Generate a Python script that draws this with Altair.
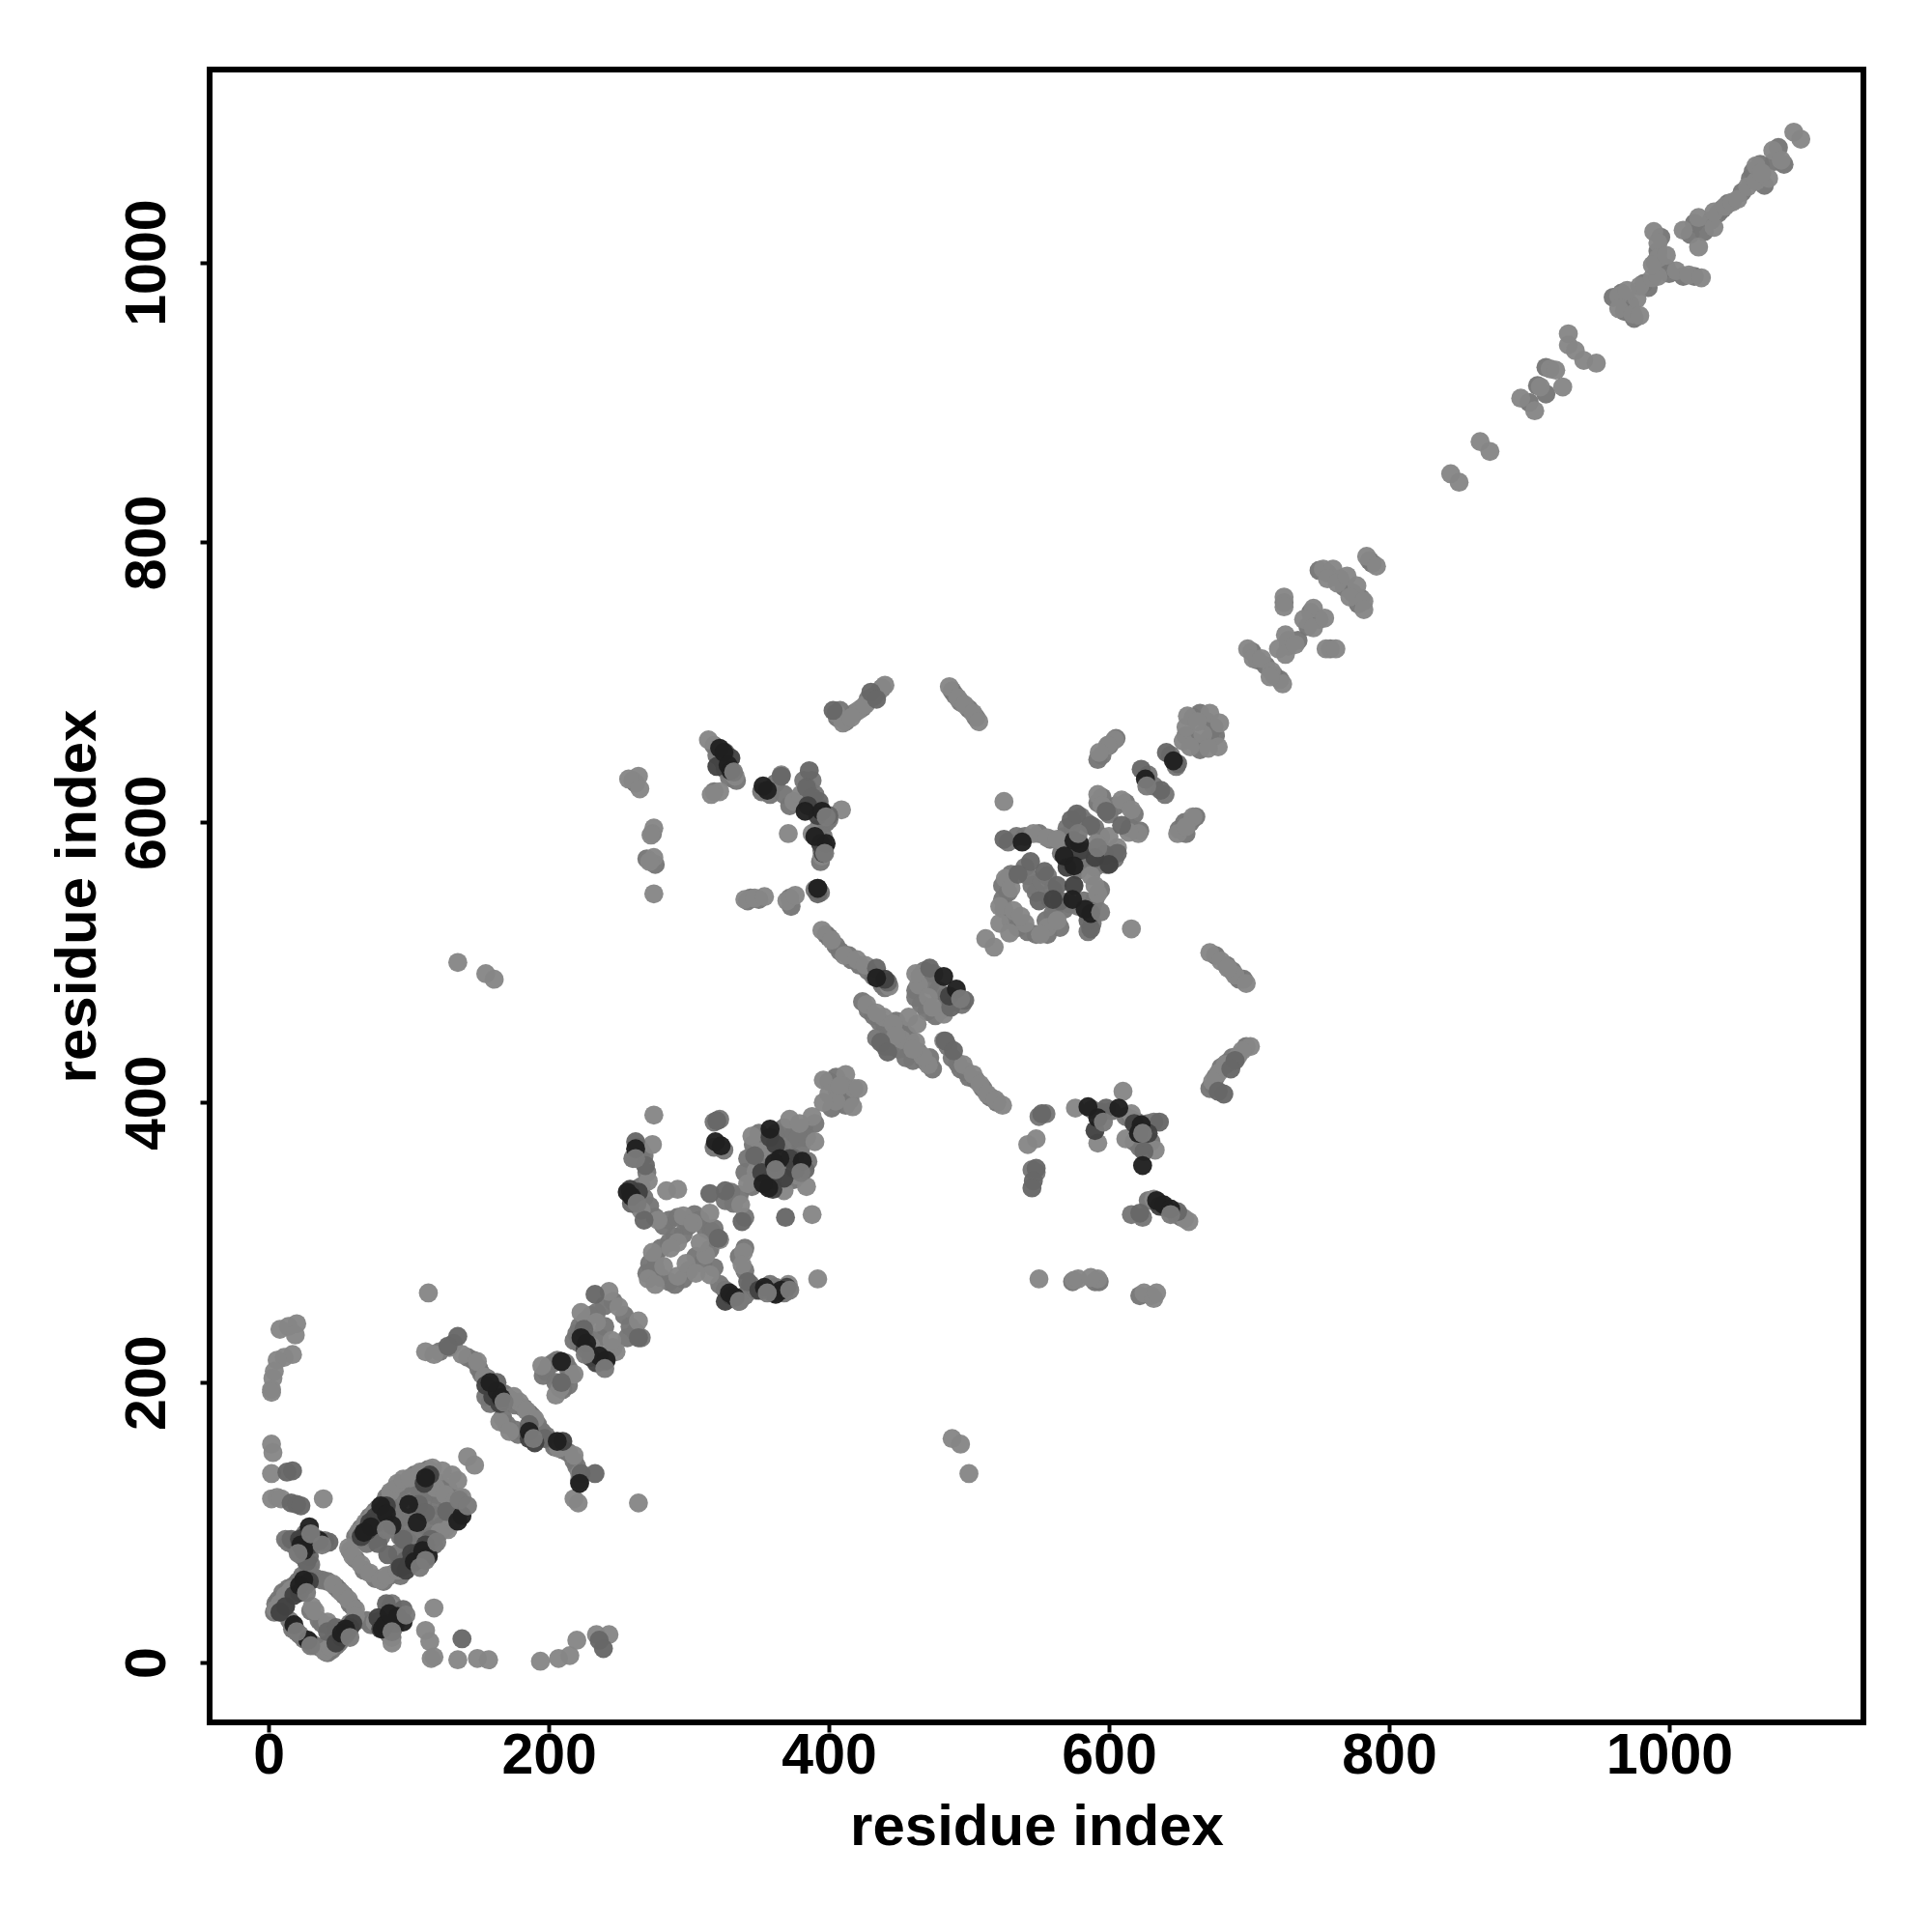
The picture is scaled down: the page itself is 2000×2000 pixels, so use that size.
import altair as alt
import pandas as pd

LIGHT = [
[20,242],[14,240],[8,238],[19,234],[17,220],[11,218],[6,216],[4,208],[3,203],[2,195],[2,193],
[2,156],[3,150],[2,135],[2,117],[6,118],[9,117],[39,117],
[46,56],[52,50],[57,45],[62,38],[62,33],[31,40],[33,37],[42,29],[8,42],[12,48],[16,52],[5,38],
[88,14],[76,29],[87,40],[46,15],[40,8],[44,11],
[57,82],[60,76],[66,70],[72,64],[80,59],[84,62],[92,66],[64,93],[69,100],[75,106],[87,122],[92,128],[96,131],[101,132],
[108,136],[117,139],[124,137],[131,134],[135,130],[142,147],[147,141],[119,125],[126,120],[133,115],[138,118],[131,100],[128,95],[122,93],[136,107],
[118,39],[112,23],[115,15],[118,4],[116,3],[135,2],[149,3],[157,2],[194,1],[207,3],[215,5],[220,16],[234,20],[243,20],[114,264],
[112,222],[118,220],[129,225],[138,220],[149,215],[154,204],[179,186],[175,190],[184,180],[190,174],[165,172],[172,165],[207,153],[218,148],[222,135],[221,114],[218,117],[264,114],
[195,212],[218,206],[208,196],[205,191],[236,220],[248,222],[223,250],[243,265],[250,254],[264,244],[234,243],[230,226],[245,230],
[275,391],[274,370],[271,344],[292,338],[284,337],[266,323],[278,316],[296,319],[315,321],[303,314],[292,300],[274,293],[287,296],[271,274],[276,270],[292,276],[312,291],[315,277],[308,300],[298,285],[282,283],[305,278],[322,302],
[339,293],[338,284],[371,270],[392,274],[337,327],[388,320],[345,376],[348,351],[342,342],[368,337],[372,388],[388,390],[379,385],[390,372],[378,348],[384,340],[350,365],[360,369],
[412,420],[396,416],[400,406],[417,397],[418,410],[405,401],[408,412],[396,400],
[264,633],[257,631],[265,624],[275,596],[273,591],[275,575],[272,572],[275,549],[314,659],[333,633],[322,622],[316,620],
[366,634],[375,615],[380,620],[371,592],[388,592],[409,609],[340,545],[347,546],[354,547],[370,544],[376,548],[395,576],
[395,523],[402,516],[411,505],[420,502],[426,498],[443,483],[464,484],[471,475],[482,463],[474,468],[462,492],
[427,470],[439,461],[457,461],[463,456],[446,456],[452,445],[462,443],[471,427],[467,433],[460,438],[448,448],[434,464],
[482,444],[496,427],[503,420],[508,413],[513,406],[519,402],[524,398],[421,410],
[405,678],[410,671],[421,680],[416,675],[426,684],[436,694],[440,698],[486,697],[492,689],[497,684],[503,678],[507,672],
[525,615],[546,592],[556,589],[563,588],[592,620],[595,612],[609,616],[616,609],[621,592],[614,593],[600,590],[591,585],[606,582],
[526,560],[530,553],[522,540],[532,537],[540,528],[537,533],[556,525],[563,530],[551,520],[522,528],[529,521],[512,517],[518,511],[616,524],[592,549],[587,562],[590,555],
[656,676],[672,678],[679,671],[653,658],[658,654],[678,654],[667,663],[655,668],[671,653],[663,672],[660,604],[649,592],[655,597],[604,659],[599,655],[593,650],
[672,507],[680,501],[690,491],[698,485],[685,496],[701,440],[692,433],[683,427],[678,421],[674,415],[695,437],
[610,408],[576,396],[616,392],[612,374],[633,366],[548,374],[542,370],[592,371],[632,331],[657,315],[654,317],[550,274],[575,273],[578,274],[592,274],[587,275],[625,264],[632,260],[634,264],
[699,724],[703,717],[709,717],[716,708],[724,699],[715,704],[726,734],[721,724],[726,720],[733,727],[725,761],[725,754],[746,753],[739,745],[746,739],[754,746],[755,724],[762,724],
[753,781],[760,781],[756,774],[763,771],[770,776],[777,769],[772,761],[782,758],[782,752],[784,790],[791,783],
[844,849],[850,843],[865,872],[872,865],[894,903],[904,894],[908,911],[915,924],[924,911],[919,923],[928,949],[928,941],[933,937],[939,930],[948,928],
[964,976],[964,967],[974,963],[977,974],[979,962],[979,983],[988,989],[992,990],[989,1022],[992,1014],[992,1003],[1005,994],[1014,991],[1023,989],[988,998],[998,1005],[970,980],
[1010,1023],[1021,1032],[1021,1011],[1032,1025],[1032,1036],[1040,1040],[1045,1043],[1049,1045],[1056,1054],[1062,1069],[1062,1058],[1071,1060],[1066,1064],[1074,1080],[1080,1073],[1089,1093],[1094,1088],
[135,500],[155,492],[161,488],[488,160],[494,156],[500,135],
]

MID = [
[17,137],[13,136],[16,114],[20,113],[23,112],[35,88],[43,86],[16,88],[29,76],[27,72],
[55,20],[42,22],[48,25],[96,38],[84,42],[88,32],
[94,70],[98,73],[105,78],[116,88],[127,108],[78,85],[85,77],[107,113],[112,107],[96,88],
[138,17],[239,10],[236,16],[135,233],[128,226],[163,200],[186,170],[197,160],[223,135],[233,135],
[233,263],[264,232],[209,200],[225,238],[240,215],
[262,372],[269,355],[259,328],[268,316],[320,387],[321,303],[326,337],[315,335],[342,272],[338,315],[369,318],[360,345],[347,362],[375,360],[383,352],
[366,633],[386,637],[384,625],[393,615],[400,605],[392,553],[392,549],[397,582],[388,618],[326,650],
[434,496],[472,496],[497,473],[487,468],[483,444],[489,437],[437,443],[442,436],[442,486],[430,693],[434,688],[403,680],
[525,588],[573,602],[577,606],[587,598],[598,608],[609,598],[597,577],[606,578],[544,572],[554,565],[550,544],[563,555],[565,544],[587,524],[585,530],[535,563],
[623,638],[637,623],[641,650],[649,642],[552,392],[548,353],[546,344],[545,339],[622,321],[649,322],[625,365],[636,386],[598,396],
[690,430],[682,406],[678,408],[687,424],
]

DARK = [
[29,97],[23,84],[25,80],[36,87],[25,59],[22,55],[18,27],[28,16],[55,24],[52,21],[83,27],[81,24],[96,29],[92,33],[86,35],
[80,112],[84,106],[88,98],[100,113],[106,100],[104,72],[110,80],[114,76],[138,105],[135,101],[73,97],[68,93],[112,132],
[163,194],[158,200],[166,189],[186,165],[206,158],[222,128],
[209,215],[223,232],[227,228],[236,219],[241,216],
[262,367],[259,333],[256,336],[323,369],[319,372],[333,261],[329,264],[354,268],[366,266],[362,263],[358,381],[357,339],[353,342],[381,358],[365,360],[361,357],
[322,653],[325,650],[328,641],[330,637],[356,623],[353,626],[383,608],[395,608],[398,585],[390,590],[392,553],[434,489],[482,490],[491,481],
[538,586],[575,587],[579,585],[568,576],[575,569],[574,545],[587,535],[583,538],[626,631],[646,644],
[585,397],[592,389],[607,396],[623,384],[624,355],[639,327],[634,330],[644,324],[621,378],
]

# Dark grey dots in the densest contacts
DEEP = [
[100,70],[104,75],[108,79],[112,84],[98,66],[94,68],[102,78],[72,100],[76,104],[80,108],[84,112],[78,100],[82,104],[70,94],[66,90],[115,134],[111,128],
[22,50],[26,55],[29,58],[18,48],[12,40],[8,36],[52,18],[56,22],[60,28],[58,25],[48,14],[80,24],[84,28],[78,32],[90,28],[26,90],[30,84],[22,88],
[160,190],[165,185],[155,198],[186,160],[190,157],[210,158],[226,224],[230,218],[234,214],
[358,375],[362,370],[372,360],[376,352],[368,346],[358,345],[352,350],[360,338],[264,336],[258,338],[330,262],[326,258],[350,266],[360,264],[370,268],
[330,646],[320,640],[385,612],[392,605],[394,585],[396,578],[570,568],[560,545],[575,555],[590,575],[600,570],[580,580],[590,380],[618,385],[628,378],[636,326],[440,488],[486,476],
]

# Paler dots that sit over the dark ones and leave them as crescents
CAP = [
[30,92],[21,78],[38,84],[27,50],[20,22],[30,12],[58,18],[88,22],[98,34],[84,95],[108,68],[112,73],[120,86],[136,116],[142,112],
[168,186],[189,160],[226,220],[240,210],[262,360],[263,328],[336,258],[356,264],[372,266],[362,352],[380,350],
[332,636],[398,604],[397,578],[578,592],[592,582],[594,536],[627,626],[596,386],[624,378],[644,320],[494,474],
]

# Dots lying under the top layer in the dense strands
UNDER = [
[5,42],[7,45],[10,50],[14,53],[18,55],[21,58],[24,62],[4,36],[6,39],[9,36],[12,41],
[24,55],[27,58],[22,52],[19,50],[30,60],[34,60],[38,59],[42,58],[48,54],[50,52],[54,48],[58,42],[60,40],[63,30],
[58,28],[56,22],[53,18],[50,14],[48,12],[45,9],[42,7],[38,10],[40,12],[44,14],[48,18],[52,22],
[30,37],[36,30],[38,28],[44,26],[15,30],[17,24],[22,20],[25,17],[30,14],[33,12],
[70,30],[73,27],[78,26],[80,30],[84,30],[85,24],[86,20],[88,18],[90,26],[92,30],[90,36],[88,42],
[12,88],[14,86],[18,84],[20,82],[22,78],[24,76],[26,92],[30,90],[28,86],[32,88],[38,86],[40,87],[30,70],[28,68],
[58,80],[62,74],[68,66],[76,60],[82,58],[86,62],[90,64],[96,68],[100,72],[104,76],[108,78],[112,84],[116,90],[120,92],[124,98],[128,102],[130,108],[134,112],[136,118],[126,96],[118,84],[110,74],[102,70],[94,62],
[62,90],[66,96],[70,100],[72,104],[76,108],[78,110],[82,114],[84,118],[86,120],[90,124],[94,126],[98,128],[104,134],[110,136],[114,138],[110,128],[116,130],[122,128],[128,124],[130,118],[128,112],[120,120],[114,122],
[76,95],[80,90],[84,100],[90,95],[94,90],[100,100],[104,105],[108,110],[110,115],[96,104],[90,108],[86,112],
[70,85],[75,88],[92,78],[100,86],[105,92],[112,98],[118,105],[122,112],[108,122],[100,122],[94,116],
[122,222],[132,228],[142,218],[146,216],[150,210],[152,206],[156,203],[158,198],[160,195],[168,192],[172,188],[176,184],[182,182],[186,178],[188,176],[192,170],[195,165],[198,162],[202,158],[204,154],[210,152],[214,150],[218,144],[220,140],[222,130],[155,190],[158,185],[167,175],[170,170],[176,166],[178,163],
[196,205],[200,212],[198,208],[203,214],[206,216],[212,214],[214,210],[216,205],[205,200],[210,195],[214,198],[218,230],[220,235],[222,228],[226,232],[228,225],[230,222],[235,218],[238,215],[222,240],[226,244],[230,248],[234,250],[240,255],[246,258],[254,248],[258,240],[262,236],[266,232],[256,232],[246,225],[240,240],[236,232],
[258,335],[262,330],[264,326],[260,360],[264,368],[266,365],[268,362],[270,350],[266,340],[268,332],[272,326],[276,318],[282,312],[286,316],[292,318],[298,316],[304,320],[308,316],[312,310],[316,308],[300,312],[296,306],[290,304],[286,300],[280,296],[276,290],[272,285],[270,278],[276,282],[280,275],[286,272],[290,270],[296,274],[300,280],[305,290],[310,285],[315,295],[318,282],[322,270],[326,266],[330,262],[336,258],[340,262],[344,270],[348,266],[352,266],[358,270],[362,268],[368,264],[340,280],[336,290],[340,296],[318,310],[326,330],[332,328],[340,318],[336,334],[330,336],
[345,340],[350,345],[355,350],[360,352],[365,355],[370,350],[375,345],[380,355],[385,358],[380,368],[372,372],[368,382],[362,378],[356,372],[350,378],[346,370],[342,360],[340,350],[352,358],[358,362],[364,366],[375,378],[382,382],[390,385],[384,375],[378,375],[322,388],[318,386],[318,368],[325,366],
[400,415],[405,418],[410,412],[415,402],[412,398],[402,396],[406,408],
[260,630],[262,628],[274,592],[276,570],[270,574],[318,655],[320,648],[324,644],[326,638],[329,632],[334,630],[318,622],[352,622],[358,620],[362,628],[368,620],[372,612],[382,630],[385,625],[388,630],[390,620],[394,610],[398,600],[400,602],[392,595],[396,590],[395,580],[394,572],[342,544],[344,546],[350,545],[372,546],[373,540],[390,552],[394,550],
[398,520],[400,518],[405,512],[408,508],[414,505],[416,502],[422,498],[428,494],[432,490],[438,484],[440,482],
[462,480],[465,490],[468,494],[475,492],[462,475],[466,470],[470,465],[476,462],[480,466],[485,470],[490,472],[484,476],[478,480],[472,484],[495,470],
[424,472],[428,466],[432,462],[436,458],[440,456],[444,452],[448,458],[452,452],[456,448],[458,444],[464,436],[468,430],[474,424],[472,432],[444,440],[440,440],[434,446],[450,438],[455,432],[460,430],
[485,440],[488,432],[492,428],[494,424],[498,422],[500,418],[505,416],[510,410],[515,404],[520,400],
[406,675],[408,680],[412,672],[418,678],[424,682],[428,688],[432,690],[438,696],[488,694],[490,691],[494,686],[500,681],[505,675],
[528,586],[534,590],[540,590],[550,592],[558,588],[568,590],[570,596],[574,598],[580,604],[584,600],[590,596],[594,590],[596,580],[600,576],[604,574],[578,578],[582,575],[586,570],[570,580],[566,578],[572,572],[578,566],[584,572],[590,568],[598,570],[600,606],[605,612],[612,614],[618,606],[615,596],[622,594],[592,614],[595,618],
[540,568],[542,562],[545,555],[548,550],[552,558],[556,562],[560,552],[558,545],[562,540],[568,538],[572,542],[578,540],[582,544],[588,540],[590,545],[594,552],[588,528],[585,522],
[524,555],[528,550],[524,545],[528,560],[530,563],[525,538],[530,530],[535,525],[542,522],[548,520],[555,530],[560,535],[565,525],[556,520],
[628,634],[632,626],[640,620],[644,648],[648,640],
[660,675],[665,678],[670,672],[675,668],[655,662],[660,658],[665,652],[672,660],[676,662],[650,595],[655,592],[658,600],[662,604],[654,600],[600,655],[605,660],[592,645],[595,648],
[676,505],[684,498],[688,494],[693,488],[696,488],[672,410],[676,418],[680,425],[684,428],[688,432],[698,440],[675,412],
[588,395],[595,393],[602,394],[612,390],[616,388],[620,386],[628,385],[632,386],[625,375],[622,368],[630,372],[618,372],
[628,330],[636,328],[640,325],[648,320],[652,318],[616,320],[624,318],[545,352],[548,350],[550,390],[555,392],[574,272],[590,272],[593,272],[630,262],[622,262],
[702,722],[706,716],[712,712],[718,705],[722,702],[728,730],[735,730],[728,726],[744,750],[750,745],[758,724],[750,780],[756,778],[765,774],[768,768],[774,764],[778,756],[780,760],[786,787],[788,785],[745,745],[742,740],[725,757],
[912,925],[906,912],[900,900],[912,906],[960,975],[966,978],[972,970],[968,965],[975,960],[982,985],[985,982],[990,1000],[992,1008],[994,1018],[998,996],[1000,992],[1010,990],[1018,990],[1015,1020],[1018,1028],[1025,1022],[1030,1030],[1035,1035],[1038,1038],[1042,1042],[1052,1050],[1058,1060],[1060,1065],[1065,1070],[1068,1055],[1075,1072],[1078,1082],[1082,1070],
]

df = pd.DataFrame(
    [(x, y, "under", 0) for x, y in UNDER]
    + [(x, y, "light", 1) for x, y in LIGHT]
    + [(x, y, "mid", 2) for x, y in MID]
    + [(x, y, "deep", 3) for x, y in DEEP]
    + [(x, y, "dark", 4) for x, y in DARK]
    + [(x, y, "cap", 5) for x, y in CAP],
    columns=["x", "y", "shade", "order"],
)

TICKS = [0, 200, 400, 600, 800, 1000]

points = alt.Chart(df).mark_circle(size=390, opacity=0.96).encode(
    x=alt.X("x:Q", scale=alt.Scale(domain=[-42.2, 1138.7], nice=False, zero=False),
            axis=alt.Axis(values=TICKS, title="residue index", format="d",
                          labelPadding=-5, titlePadding=15)),
    y=alt.Y("y:Q", scale=alt.Scale(domain=[-42.7, 1137.7], nice=False, zero=False),
            axis=alt.Axis(values=TICKS, title="residue index", format="d",
                          labelAngle=-90, labelAlign="center", labelBaseline="bottom",
                          labelPadding=25, titlePadding=12)),
    color=alt.Color("shade:N", legend=None,
                    scale=alt.Scale(domain=["light", "under", "mid", "deep", "dark", "cap"],
                                    range=["#868686", "#767676", "#676767", "#424242", "#1f1f1f", "#7a7a7a"])),
    order=alt.Order("order:Q"),
)

chart = points.properties(
    width=1712, height=1711, padding={"left": 41, "top": 64, "right": 10, "bottom": 10}
).configure_view(stroke="black", strokeWidth=6).configure_axis(
    grid=False, domain=False, tickColor="black", tickWidth=4, tickSize=10,
    labelFont="Liberation Sans", labelFontWeight="bold", labelFontSize=59, labelColor="black",
    titleFont="Liberation Sans", titleFontWeight="bold", titleFontSize=60, titleColor="black",
)

chart.save("out.html", embed_options={"renderer": "svg", "actions": False})
